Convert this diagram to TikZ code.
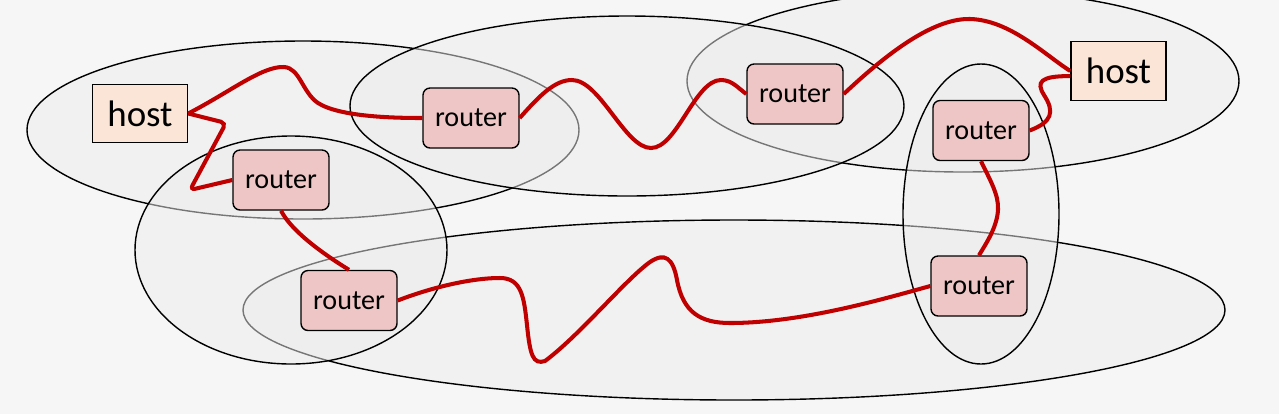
\documentclass[tikz,border=0pt]{standalone}
\usepackage{fontspec}
\setmainfont{Carlito}
\definecolor{bgfill}{RGB}{246,246,246}
\definecolor{routerfill}{RGB}{239,198,198}
\definecolor{hostfill}{RGB}{250,229,215}
\definecolor{wirered}{RGB}{192,0,0}
\begin{document}
\begin{tikzpicture}[
x=0.02cm, y=-0.02cm,
wire/.style={draw=wirered, line width=2.3pt},
area/.style={draw=black, line width=0.8pt, fill=black!7, fill opacity=0.5},
router/.style={%
    rectangle, rounded corners=4pt,
    minimum width=1.92cm, minimum height=1.2cm,
    draw=black, line width=0.8pt,
    fill=routerfill,
    font=\fontsize{16}{19}\selectfont,
},
host/.style={%
    rectangle,
    minimum width=1.9cm, minimum height=1.17cm,
    draw=black, line width=0.8pt,
    fill=hostfill,
    font=\fontsize{21}{25}\selectfont,
},
]
% Background
\fill[bgfill] (0,0) rectangle (1279,414);
\useasboundingbox (0,0) rectangle (1279,414);
\clip (0,0) rectangle (1279,414);

% Areas
\draw[area] (303,130) ellipse [x radius=276, y radius=89];
\draw[area] (963,81)  ellipse [x radius=276, y radius=91];
\draw[area] (734,310) ellipse [x radius=491, y radius=90];
\draw[area] (627,106) ellipse [x radius=277, y radius=90];
\draw[area] (291,250) ellipse [x radius=156, y radius=114];
\draw[area] (981,214) ellipse [x radius=78,  y radius=150];

% Nodes
\node[host]     at (140,113.5)  (hostleft)      {host};
\node[router]   at (281,180)    (routerleft)    {router};
\node[router]   at (471,118)    (routertop)     {router};
\node[router]   at (349,300.5)  (routerlow)     {router};
\node[router]   at (795,94)     (routermid)     {router};
\node[router]   at (981,130.5)  (routerupper)   {router};
\node[router]   at (979,286)    (routerlower)   {router};
\node[host]     at (1118.5,71)  (hostright)     {host};

% Lines
\draw[wire, rounded corners=3pt] (hostleft.east) -- (226,123) -- (190,190) -- (routerleft.west);
\draw[wire] (hostleft.east) .. controls (230,92) and (262,66) .. (284,67)
    .. controls (300,68) and (302,92) .. (318,103)
    .. controls (340,117) and (395,118) .. (routertop.west);
\draw[wire] (routertop.east) .. controls (540,95) and (555,80) .. (572,80)
    .. controls (600,80) and (625,148) .. (651,148)
    .. controls (677,148) and (695,80) .. (721,80)
    .. controls (732,80) and (738,88) .. (routermid.west);
\draw[wire] (routermid.east) .. controls (880,60) and (930,18) .. (970,19)
    .. controls (1010,20) and (1045,55) .. (hostright.west);
\draw[wire] (hostright.186) .. controls (1040,76) and (1036,82) .. (1044,95)
    .. controls (1055,112) and (1052,122) .. (routerupper.east);
\draw[wire] (routerupper.south) .. controls (990,180) and (999,195) .. (998,210)
    .. controls (997,228) and (985,245) .. (routerlower.north);
\draw[wire] (routerleft.south) .. controls (292,232) and (325,255) .. (routerlow.north);
\draw[wire] (routerlow.east) .. controls (430,288) and (470,278) .. (500,278)
    .. controls (522,278) and (524,298) .. (527,325)
    .. controls (530,355) and (533,365) .. (545,361)
    .. controls (580,335) and (625,280) .. (650,262)
    .. controls (665,252) and (673,258) .. (677,280)
    .. controls (683,312) and (700,323) .. (730,323)
    .. controls (800,323) and (880,300) .. (routerlower.west);
\end{tikzpicture}
\end{document}
